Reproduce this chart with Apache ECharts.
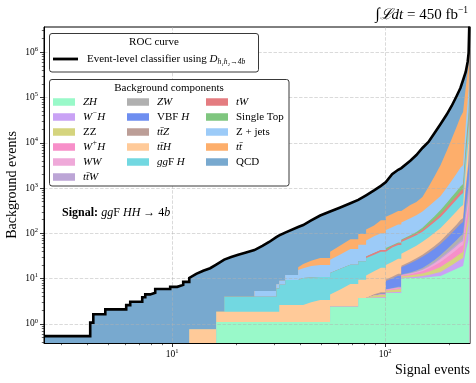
<!DOCTYPE html>
<html><head><meta charset="utf-8">
<script src="https://cdn.jsdelivr.net/npm/echarts@6/dist/echarts.min.js"></script>
<style>html,body{margin:0;padding:0;background:#fff}#c{width:476px;height:383px}</style>
</head><body><div id="c"></div>
<script>
// ---- data (signal events on x; background events per component on y) ----
const signal = [2.5,4.12,4.26,4.85,6.08,6.35,7.23,7.47,7.88,8.32,9.78,10.55,11.26,12.02,12.96,13.98,15.07,16.09,17.54,18.91,20.4,22.0,24.3,26.5,28.5,30.8,31.8,33.9,39.0,41.2,44.9,49.5,55.1,61.5,68.6,74.7,81.3,88.6,95.4,100.7,107.7,115.0,119.0,131.1,140.0,149.5,159.6,170.4,181.9,194.3,205.0,216.4,225.4,232.0,238.7,243.7,246.3,248.0];
// 2 = the whole ROC jumps here, 1 = only the stacked components step here, 0 = smooth
const jump = [0,2,2,2,2,2,2,2,2,2,2,2,2,2,0,0,0,1,1,0,0,0,1,0,0,1,1,1,1,0,0,0,1,0,0,1,1,0,0,1,0,0,1,0,0,0,0,0,0,0,0,0,0,0,0,0,0,2];

const ZH = [0,0,0,0,0,0,0,0,0,0,0,0,0,0,0,0,0,1.1,1.1,1.1,1.1,1.1,1.1,1.1,1.1,1.1,1.1,1.1,1.1,1.1,1.1,1.1,2.4,2.4,2.4,3.75,3.75,3.75,3.75,4.83,4.83,4.83,10.2,10.3,10.4,10.5,10.8,11.15,11.5,13.2,14.8,16.6,18.2,19.1,39.1,59,72,250];
const WmH = [0,0,0,0,0,0,0,0,0,0,0,0,0,0,0,0,0,0,0,0,0,0,0,0,0,0,0,0,0,0,0,0,0,0,0,0,0,0.1,0.15,0.12,0.17,0.23,0.28,0.46,0.64,0.9,1.28,1.83,2.6,3.7,4.97,6.67,8.45,9.5,30.4,59.3,82,284];
const ZZ = [0,0,0,0,0,0,0,0,0,0,0,0,0,0,0,0,0,0,0,0,0,0,0,0,0,0,0,0,0,0,0,0,0,0,0,0,0,0.4,0.5,0.55,0.65,0.78,0.85,1.12,1.33,1.65,2.22,2.98,4.0,5.17,6.39,7.9,9.37,10.2,35.4,72.3,102,353];
const WpH = [0,0,0,0,0,0,0,0,0,0,0,0,0,0,0,0,0,0,0,0,0,0,0,0,0,0,0,0,0,0,0,0,0,0,0,0,0,0,0.05,0.13,0.2,0.3,0.37,0.7,1.06,1.6,2.39,3.56,5.3,7.25,9.41,12.2,15.0,16.7,58.3,119.5,169,585];
const WW = [0,0,0,0,0,0,0,0,0,0,0,0,0,0,0,0,0,0,0,0,0,0,0,0,0,0,0,0,0,0,0,0,0,0,0,0,0,0,0.05,0.07,0.105,0.16,0.19,0.36,0.53,0.83,1.38,2.29,3.8,5.26,6.89,9.0,11.2,12.5,52.1,118,176,609];
const ttW = [0,0,0,0,0,0,0,0,0,0,0,0,0,0,0,0,0,0,0,0,0,0,0,0,0,0,0,0,0,0,0,0,0,0,0,0,0,0,0,0.05,0.075,0.11,0.14,0.25,0.38,0.58,0.89,1.36,2.1,2.92,3.83,5.04,6.27,7.0,35.3,89.3,140,485];
const ZW = [0,0,0,0,0,0,0,0,0,0,0,0,0,0,0,0,0,0,0,0,0,0,0,0,0,0,0,0,0,0,0,0,0,0,0,0,0,0,0.1,0.09,0.14,0.21,0.26,0.49,0.75,1.15,1.76,2.69,4.1,6.49,9.5,13.9,18.9,22,109.6,275,430,1488];
const VBFH = [0,0,0,0,0,0,0,0,0,0,0,0,0,0,0,0,0,0,0,0,0,0,0,0,0,0,0,0,0,0,0,0,0,0,0,0,0,0,0.1,3.06,3.9,5.0,5.6,8.2,10.4,13.2,16.3,20.2,24.9,34.5,45.2,59.3,73.6,82,468,1273,2066,7150];
const ttZ = [0,0,0,0,0,0,0,0,0,0,0,0,0,0,0,0,0,0,0,0,0,0,0,0,0,0,0,0,0,0,0,0,0,0,0,0,0,0.3,0.3,0.7,0.91,1.18,1.34,2.0,2.6,3.47,4.89,6.9,9.7,14.3,19.7,27.2,35.2,40,219,583,934,3230];
const ttH = [0,0,0,0,0,0,0,0,0,0,0,0,0,0.76,0.76,0.76,0.76,0.77,0.77,0.77,0.77,0.77,0.77,0.77,0.77,0.77,1.53,1.53,1.53,1.53,1.9,2.29,2.05,3.4,5.2,5.7,7.95,9.95,12.5,10.5,12.5,14.9,16.3,21.3,25.3,31.1,39.6,50.3,64,88,114.5,149,184,205,1415,4285,7330,25360];
const ggFH = [0,0,0,0,0,0,0,0,0,0,0,0,0,0,0,0,0,0,2.13,2.13,2.13,2.13,2.13,2.13,2.13,4.23,4.67,6.77,7.37,7.67,7.6,7.51,8.95,10.7,12.8,14.65,16.8,19.3,21.6,22.9,25.2,27.7,29.1,33.6,37.1,43.4,56.9,74.7,98,139,187,250,317,356,2505,7680,13200,45700];
const tW = [0,0,0,0,0,0,0,0,0,0,0,0,0,0,0,0,0,0,0,0,0,0,0,0,0,0,0,0,0,0,0,0,0,0,0,0,2.3,3.0,3.6,4.0,4.7,5.5,6.0,7.6,9.0,11.4,17.1,25.5,38,57.7,81.5,115,152,175,1302,4120,7200,24900];
const singleTop = [0,0,0,0,0,0,0,0,0,0,0,0,0,0,0,0,0,0,0,0,0,0,0,0,0,0,0,0,0,0,0,0,0,0,0,0,0,0,0.1,0.6,1.0,1.7,2.2,4.7,7.8,13.1,21.8,36.5,61,92.2,130,183,241,277,2477,8720,16000,55400];
const Zjets = [0,0,0,0,0,0,0,0,0,0,0,0,0,0,0,0,0,0,0,0,0,0,1.35,1.35,1.35,1.4,1.7,2.7,5.5,6.7,8.4,9.2,12.7,17.8,24.6,31.9,38.6,49.1,58.2,71,82,94,101,124,143,170,214,270,340,552,826,1235,1705,2004,16380,54100,98100,339400];
const ttbar = [0,0,0,0,0,0,0,0,0,0,0,0,0,0,0,0,0,0,0,0,0,0,0,0,0,0,0,0,2.3,4,6,8.5,13.4,19.7,29.5,41,52.6,64.1,94,114,132,154,166,209,243,336,662,1305,2567,5600,10710,20480,34430,44664,140900,272600,375000,1297500];
const QCD = [0.54,1.07,1.64,2.1,2.6,3.1,3.9,4.5,4.9,5.9,6.6,7.3,8.5,9.64,12.04,14.24,16.24,18.63,22.3,26.0,29.8,33.3,37.35,47.55,59.25,75.2,81.2,91.9,120.2,132,168,219.4,264.5,319,387.5,452,572,740,925,1127,1762,2229,2430,3606,4877,7040,9347,14635,22764,35378,52730,85430,124775,195100,200000,255800,439000,1900000];

const xTicks = [10, 100];
const yTicks = [1, 10, 100, 1000, 10000, 100000, 1000000];

// ---- styling ----
const FONT = "'Liberation Serif', 'DejaVu Serif', serif";
const components = [
  {name:'ZH',        data:ZH,        color:'#99f9c9', label:'{i|ZH}'},
  {name:'W-H',       data:WmH,       color:'#c9a2f5', label:'{i|W}{sup|−}{i|H}'},
  {name:'ZZ',        data:ZZ,        color:'#d5d47e', label:'{r|ZZ}'},
  {name:'W+H',       data:WpH,       color:'#f78fc9', label:'{i|W}{sup|+}{i|H}'},
  {name:'WW',        data:WW,        color:'#efa9d9', label:'{i|WW}'},
  {name:'ttW',       data:ttW,       color:'#bca5d6', label:'{i|tt\u0304W}'},
  {name:'ZW',        data:ZW,        color:'#b0b0b0', label:'{i|ZW}'},
  {name:'VBF H',     data:VBFH,      color:'#6e8ef0', label:'{r|VBF }{i|H}'},
  {name:'ttZ',       data:ttZ,       color:'#bc9e97', label:'{i|tt\u0304Z}'},
  {name:'ttH',       data:ttH,       color:'#ffca99', label:'{i|tt\u0304H}'},
  {name:'ggF H',     data:ggFH,      color:'#72d8e1', label:'{i|gg}{r|F }{i|H}'},
  {name:'tW',        data:tW,        color:'#e47c80', label:'{i|tW}'},
  {name:'Single Top',data:singleTop, color:'#7fc67f', label:'{r|Single Top}'},
  {name:'Z+jets',    data:Zjets,     color:'#9ccbf8', label:'{r|Z + jets}'},
  {name:'tt',        data:ttbar,     color:'#fdae6b', label:'{i|tt\u0304}'},
  {name:'QCD',       data:QCD,       color:'#78a9cf', label:'{r|QCD}'}
];
const labelOf = {};
components.forEach(c => labelOf[c.name] = c.label);

// expand the step points into vertex lists (vertical jumps get a duplicate x)
const nC = components.length, iQ = nC - 1;
const X = [], V = components.map(() => []);
for (let i = 0; i < signal.length; i++) {
  if (i > 0 && jump[i] > 0) {
    X.push(signal[i]);
    let others = 0;
    for (let k = 0; k < iQ; k++) { V[k].push(components[k].data[i - 1]); others += components[k].data[i - 1]; }
    if (jump[i] === 2) V[iQ].push(QCD[i - 1]);
    else { let tot = 0; for (let k = 0; k < nC; k++) tot += components[k].data[i]; V[iQ].push(tot - others); }
  }
  X.push(signal[i]);
  for (let k = 0; k < nC; k++) V[k].push(components[k].data[i]);
}
// cumulative stack
let run = X.map(() => 0);
const cumul = V.map(arr => { run = run.map((v, i) => v + arr[i]); return run.slice(); });
const total = cumul[iQ];

const areaSeries = [];
for (let k = nC - 1; k >= 0; k--) {
  const c = components[k];
  areaSeries.push({
    name: c.name, type: 'line', xAxisIndex: 0, yAxisIndex: 0,
    data: X.map((x, i) => [x, cumul[k][i] > 0 ? cumul[k][i] : null]),
    symbol: 'none', showSymbol: false, silent: true,
    color: c.color, itemStyle: {color: c.color},
    lineStyle: {width: 0, color: c.color},
    areaStyle: {color: c.color, opacity: 1, origin: 'start'},
    z: 2, emphasis: {disabled: true}
  });
}
const rocSeries = {
  name: 'ROC', type: 'line', xAxisIndex: 0, yAxisIndex: 0,
  data: X.map((x, i) => [x, total[i]]),
  symbol: 'none', showSymbol: false, silent: true,
  color: '#000', itemStyle: {color: '#000'},
  lineStyle: {color: '#000', width: 2.6, join: 'miter'},
  z: 6, emphasis: {disabled: true}
};

const xMinor = [3,4,5,6,7,8,9,20,30,40,50,60,70,80,90,200];
const yMinor = [];
for (let e = -1; e <= 6; e++) for (let m = 2; m <= 9; m++) yMinor.push(m * Math.pow(10, e));

const tickRich = {
  b: {fontFamily: FONT, fontSize: 9.5, color: '#000'},
  s: {fontFamily: FONT, fontSize: 6.5, color: '#000', padding: [0, 0, 6, 0], lineHeight: 7}
};
const expLabel = v => '{b|10}{s|' + Math.round(Math.log10(v)) + '}';
const gridLine = {show: true, lineStyle: {color: 'rgba(176,176,176,0.6)', width: 0.8, type: [3.5, 1.6]}};

const legRich = {
  r: {fontFamily: FONT, fontSize: 11, color: '#000', lineHeight: 15},
  i: {fontFamily: FONT, fontSize: 11, fontStyle: 'italic', color: '#000', lineHeight: 15},
  sup: {fontFamily: FONT, fontSize: 7.5, fontStyle: 'italic', color: '#000', lineHeight: 7, padding: [0, 0, 7, 0]},
  sub: {fontFamily: FONT, fontSize: 7.5, fontStyle: 'italic', color: '#000', lineHeight: 7, padding: [7, 0, 0, 0]}
};
const colLegend = (names, left) => ({
  data: names, left: left, top: 94.5, orient: 'vertical', padding: 0,
  itemWidth: 22, itemHeight: 7.5, itemGap: 0, icon: 'rect', z: 120,
  selectedMode: false, itemStyle: {borderWidth: 0},
  textStyle: {fontFamily: FONT, fontSize: 11, color: '#000', lineHeight: 15, padding: [0, 0, 0, 3], rich: legRich},
  formatter: n => labelOf[n]
});

const option = {
  animation: false,
  backgroundColor: '#fff',
  grid: {left: 44, right: 6, top: 27, bottom: 40, containLabel: false, outerBoundsMode: 'none',
         show: true, borderColor: '#000', borderWidth: 1, backgroundColor: 'transparent'},
  xAxis: [
    {type: 'log', logBase: 10, min: 2.5, max: 250, position: 'bottom', z: 3,
     name: 'Signal events', nameLocation: 'end', nameGap: 0, nameMoveOverlap: false,
     nameTextStyle: {fontFamily: FONT, fontSize: 14, color: '#000', align: 'right', verticalAlign: 'top', padding: [20, 0, 0, 0]},
     axisLine: {show: true, lineStyle: {color: '#000', width: 1}},
     axisTick: {show: true, length: 4, customValues: xTicks, lineStyle: {color: '#000', width: 0.8}},
     axisLabel: {show: true, customValues: xTicks, formatter: expLabel, rich: tickRich, margin: 6},
     splitLine: gridLine},
    {type: 'log', logBase: 10, min: 2.5, max: 250, position: 'bottom', z: 3,
     axisLine: {show: false},
     axisTick: {show: true, length: 2.2, customValues: xMinor, lineStyle: {color: '#000', width: 0.6}},
     axisLabel: {show: false}, splitLine: {show: false}}
  ],
  yAxis: [
    {type: 'log', logBase: 10, min: 0.38, max: 3.6e6, position: 'left', z: 3,
     name: 'Background events', nameLocation: 'middle', nameGap: 25, nameMoveOverlap: false,
     nameTextStyle: {fontFamily: FONT, fontSize: 14, color: '#000'},
     axisLine: {show: true, lineStyle: {color: '#000', width: 1}},
     axisTick: {show: true, length: 4, customValues: yTicks, lineStyle: {color: '#000', width: 0.8}},
     axisLabel: {show: true, customValues: yTicks, formatter: expLabel, rich: tickRich, margin: 6},
     splitLine: gridLine},
    {type: 'log', logBase: 10, min: 0.38, max: 3.6e6, position: 'left', z: 3,
     axisLine: {show: false},
     axisTick: {show: true, length: 2.2, customValues: yMinor, lineStyle: {color: '#000', width: 0.6}},
     axisLabel: {show: false}, splitLine: {show: false}}
  ],
  legend: [
    {data: ['ROC'], left: 53, top: 51.5, orient: 'vertical', padding: 0, z: 120, selectedMode: false,
     itemWidth: 25, itemHeight: 2.8, itemGap: 0, icon: 'rect', itemStyle: {color: '#000', borderWidth: 0},
     textStyle: {fontFamily: FONT, fontSize: 11, color: '#000', lineHeight: 15, padding: [0, 0, 0, 4], rich: legRich},
     formatter: () => '{r|Event-level classifier using }{i|D}{sub|h\u2081h\u2082\u21924b}'},
    colLegend(['ZH', 'W-H', 'ZZ', 'W+H', 'WW', 'ttW'], 53),
    colLegend(['ZW', 'VBF H', 'ttZ', 'ttH', 'ggF H'], 127),
    colLegend(['tW', 'Single Top', 'Z+jets', 'tt', 'QCD'], 206)
  ],
  graphic: [
    {type: 'rect', z: 100, shape: {x: 49.5, y: 33.5, width: 209, height: 38.5, r: 2.5},
     style: {fill: '#fff', stroke: '#222', lineWidth: 0.9}},
    {type: 'text', z: 101, x: 154, y: 42, style: {text: 'ROC curve', fontFamily: FONT, fontSize: 11, fill: '#000', align: 'center', verticalAlign: 'middle'}},
    {type: 'rect', z: 100, shape: {x: 49.5, y: 79.5, width: 239.5, height: 106.5, r: 2.5},
     style: {fill: '#fff', stroke: '#222', lineWidth: 0.9}},
    {type: 'text', z: 101, x: 169, y: 88, style: {text: 'Background components', fontFamily: FONT, fontSize: 11, fill: '#000', align: 'center', verticalAlign: 'middle'}},
    {type: 'text', z: 101, x: 468, y: 15, style: {
      text: '{int|\u222B}{L|\u2112}{i|dt}{r| = 450 fb}{sup|\u22121}', align: 'right', verticalAlign: 'middle',
      rich: {
        int: {fontFamily: FONT, fontSize: 16, fill: '#000'},
        L: {fontFamily: FONT, fontSize: 15, fontStyle: 'italic', fill: '#000'},
        i: {fontFamily: FONT, fontSize: 15, fontStyle: 'italic', fill: '#000'},
        r: {fontFamily: FONT, fontSize: 15, fill: '#000'},
        sup: {fontFamily: FONT, fontSize: 9.5, fill: '#000', lineHeight: 9, padding: [0, 0, 9, 0]}
      }}},
    {type: 'text', z: 101, x: 62, y: 213, style: {
      text: '{b|Signal:} {i|gg}{r|F }{i|HH}{r| \u2192 4}{i|b}', align: 'left', verticalAlign: 'middle',
      rich: {
        b: {fontFamily: FONT, fontSize: 12, fontWeight: 'bold', fill: '#000'},
        i: {fontFamily: FONT, fontSize: 12, fontStyle: 'italic', fill: '#000'},
        r: {fontFamily: FONT, fontSize: 12, fill: '#000'}
      }}}
  ],
  series: areaSeries.concat([rocSeries])
};

const chart = echarts.init(document.getElementById('c'), null, {renderer: 'canvas', width: 476, height: 383});
chart.setOption(option);
</script>
</body></html>
